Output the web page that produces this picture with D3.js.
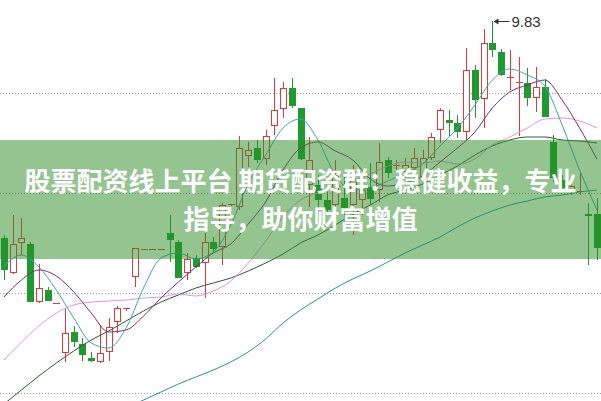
<!DOCTYPE html>
<html><head><meta charset="utf-8">
<script src="https://cdn.jsdelivr.net/npm/d3@7"></script>
<style>html,body{margin:0;padding:0;background:#fff;overflow:hidden}</style>
</head><body><svg id="c" width="601" height="401"></svg>
<script>
// ---- data (prices) ----
const opens  = [7.66,7.31,7.61,7.60,7.02,7.14,7.01,6.51,6.72,6.60,6.46,6.42,6.52,6.82,6.96,7.27,7.55,7.55,7.55,7.71,7.62,7.31,7.46,7.41,7.62,7.57,8.00,7.97,8.48,8.56,8.45,8.78,8.95,9.16,8.96,8.19,8.19,8.04,7.99,8.06,7.99,8.04,8.17,8.14,8.44,8.38,8.32,8.36,8.27,8.46,8.74,8.84,8.81,8.72,9.34,9.05,9.61,9.52,9.27,9.21,9.21,9.06,9.17,8.62,8.24,8.12,8.12,7.90,7.90];
const highs  = [7.69,7.89,7.86,7.62,7.40,7.17,7.01,6.96,6.78,6.66,6.52,6.79,6.86,6.98,6.96,7.56,7.55,7.55,7.55,7.89,7.64,7.51,7.49,7.71,7.67,8.01,8.00,8.68,8.62,8.64,8.74,9.26,9.22,9.26,8.96,8.67,8.29,8.17,8.44,8.27,8.39,8.29,8.41,8.61,8.47,8.44,8.46,8.56,8.54,8.71,8.96,8.94,8.89,9.56,9.39,9.75,9.83,9.55,9.54,9.47,9.36,9.37,9.25,8.69,8.29,8.24,8.31,8.01,8.06];
const lows   = [7.24,7.30,7.49,7.02,7.01,7.03,7.00,6.42,6.57,6.43,6.42,6.41,6.43,6.71,6.93,7.17,7.55,7.55,7.55,7.42,7.26,7.24,7.36,7.06,7.52,7.39,7.98,7.94,8.37,8.41,8.39,8.69,8.86,8.96,8.44,7.97,7.94,7.92,7.89,7.74,7.69,7.89,7.99,8.02,8.26,8.34,8.26,8.26,8.24,8.44,8.61,8.67,8.66,8.64,8.86,8.76,9.47,9.28,9.14,8.68,8.98,8.92,8.87,8.22,8.12,8.09,8.09,7.39,7.44];
const closes = [7.34,7.60,7.66,7.02,7.16,7.03,7.01,6.71,6.62,6.49,6.43,6.51,6.77,6.96,6.96,7.56,7.55,7.55,7.55,7.64,7.26,7.45,7.37,7.62,7.55,7.99,8.00,8.56,8.54,8.44,8.68,8.94,9.16,8.98,8.45,8.44,8.04,7.94,8.29,7.96,8.24,8.14,8.05,8.42,8.31,8.39,8.39,8.46,8.46,8.67,8.94,8.81,8.72,9.34,9.04,9.61,9.54,9.29,9.27,9.22,9.06,9.17,8.87,8.26,8.16,8.18,8.13,7.88,7.56];

// moving averages sampled at every second candle
const maIdx = [0,2,4,6,8,10,12,14,16,18,20,22,24,26,28,30,32,34,36,38,40,42,44,46,48,50,52,54,56,58,60,62,64,66,68];
const ma5  = [7.38,7.49,7.37,7.14,6.86,6.61,6.56,6.76,7.16,7.46,7.51,7.45,7.52,7.79,8.20,8.49,8.76,8.85,8.64,8.29,8.14,8.16,8.23,8.31,8.40,8.58,8.76,8.99,9.24,9.35,9.29,9.18,8.79,8.34,7.94];
const ma10 = [7.07,7.24,7.34,7.28,7.12,6.91,6.72,6.74,6.88,7.06,7.22,7.37,7.51,7.60,7.80,8.02,8.34,8.56,8.62,8.53,8.44,8.25,8.18,8.21,8.28,8.42,8.56,8.72,8.96,9.12,9.19,9.24,9.04,8.76,8.45];
const ma20 = [6.44,6.62,6.78,6.91,6.99,7.02,7.03,7.04,7.06,7.07,7.10,7.08,7.13,7.23,7.41,7.63,7.87,8.04,8.11,8.16,8.23,8.30,8.38,8.42,8.41,8.43,8.40,8.45,8.59,8.67,8.76,8.85,8.86,8.83,8.76];
const ma30 = [6.00,6.14,6.28,6.41,6.53,6.64,6.73,6.83,6.93,7.02,7.09,7.16,7.21,7.26,7.33,7.41,7.50,7.61,7.69,7.79,7.90,7.99,8.09,8.14,8.20,8.29,8.38,8.49,8.58,8.64,8.67,8.67,8.64,8.63,8.61];
const ma60 = [null,null,null,null,null,null,null,5.96,6.04,6.12,6.20,6.27,6.34,6.42,6.52,6.65,6.81,6.94,7.05,7.16,7.25,7.33,7.42,7.51,7.59,7.67,7.77,7.86,7.93,7.99,8.03,8.07,8.09,8.12,8.14];

const gridValues = [9.11, 8.11, 7.11, 6.11];
const maxLabel = "9.83";
const maxIndex = 56;
const bannerLines = ["股票配资线上平台 期货配资群：稳健收益，专业", "指导，助你财富增值"];

// ---- drawing ----
const W = 601, H = 401;
const svg = d3.select("#c");
const x = d3.scaleLinear().domain([0, 68]).range([4, 597]);
const y = d3.scaleLinear().domain([6.03, 10.04]).range([H, 0]);
const RED = "#e0393c", GREEN = "#1f9a30";

// grid
svg.append("g").selectAll("line").data(gridValues).join("line")
  .attr("x1", 0).attr("x2", W)
  .attr("y1", d => Math.round(y(d)) + 0.5).attr("y2", d => Math.round(y(d)) + 0.5)
  .attr("stroke", "#9a9a9a").attr("stroke-width", 1).attr("stroke-dasharray", "1,2");

// candles
const candles = d3.range(opens.length).map(i => ({i, o: opens[i], h: highs[i], l: lows[i], c: closes[i]}));
const cg = svg.append("g");
candles.forEach(d => {
  const cx = Math.round(x(d.i)) + 0.5;
  const up = d.c >= d.o;
  const top = Math.round(y(Math.max(d.o, d.c)));
  const bot = Math.round(y(Math.min(d.o, d.c)));
  const yh = Math.round(y(d.h)), yl = Math.round(y(d.l));
  if (up) {
    if (yh < top) cg.append("line").attr("x1", cx).attr("x2", cx).attr("y1", yh).attr("y2", top).attr("stroke", RED);
    if (yl > bot) cg.append("line").attr("x1", cx).attr("x2", cx).attr("y1", bot).attr("y2", yl).attr("stroke", RED);
    if (bot - top >= 2) {
      cg.append("rect").attr("x", cx - 3).attr("y", top + 0.5).attr("width", 6).attr("height", bot - top - 1)
        .attr("fill", "#fff").attr("stroke", RED);
    } else {
      cg.append("line").attr("x1", cx - 3.5).attr("x2", cx + 3.5).attr("y1", top + 0.5).attr("y2", top + 0.5).attr("stroke", RED);
    }
  } else {
    cg.append("line").attr("x1", cx).attr("x2", cx).attr("y1", yh).attr("y2", yl).attr("stroke", GREEN);
    cg.append("rect").attr("x", cx - 3.5).attr("y", top).attr("width", 7).attr("height", Math.max(1, bot - top))
      .attr("fill", GREEN);
  }
});

// moving averages
const maSeries = [
  {v: ma60, color: "#2f8e9e"},
  {v: ma30, color: "#2c5a34"},
  {v: ma20, color: "#e492e6"},
  {v: ma10, color: "#7a2f70"},
  {v: ma5,  color: "#3fa4b8"}
];
const line = d3.line().defined(d => d[1] != null).x(d => x(d[0])).y(d => y(d[1])).curve(d3.curveMonotoneX);
maSeries.forEach(s => {
  svg.append("path").datum(maIdx.map((k, j) => [k, s.v[j]]))
    .attr("d", line).attr("fill", "none").attr("stroke", s.color).attr("stroke-width", 1);
});

// max label
const mx = Math.round(x(maxIndex)) + 1.5, my = Math.round(y(highs[maxIndex])) + 0.5;
svg.append("line").attr("x1", mx + 3).attr("x2", mx + 16).attr("y1", my).attr("y2", my).attr("stroke", "#333");
svg.append("path").attr("d", `M${mx},${my} L${mx + 5},${my - 3} L${mx + 5},${my + 3} Z`).attr("fill", "#333");
svg.append("text").attr("x", mx + 18).attr("y", my).attr("dy", "0.36em")
  .attr("font-family", "'Liberation Sans', Arial, sans-serif").attr("font-size", 15).attr("fill", "#333")
  .text(maxLabel);

// banner overlay
svg.append("rect").attr("x", 0).attr("y", 140).attr("width", W).attr("height", 119)
  .attr("fill", "#2a8c24").attr("fill-opacity", 0.5);
svg.selectAll("text.banner").data(bannerLines).join("text").attr("class", "banner")
  .attr("x", 300.5).attr("y", (d, k) => 182 + k * 38).attr("dy", "0.36em")
  .attr("text-anchor", "middle").attr("font-family", "'Noto Sans CJK SC', sans-serif")
  .attr("font-weight", "bold").attr("font-size", 26).attr("fill", "#fff").text(d => d);
</script></body></html>
